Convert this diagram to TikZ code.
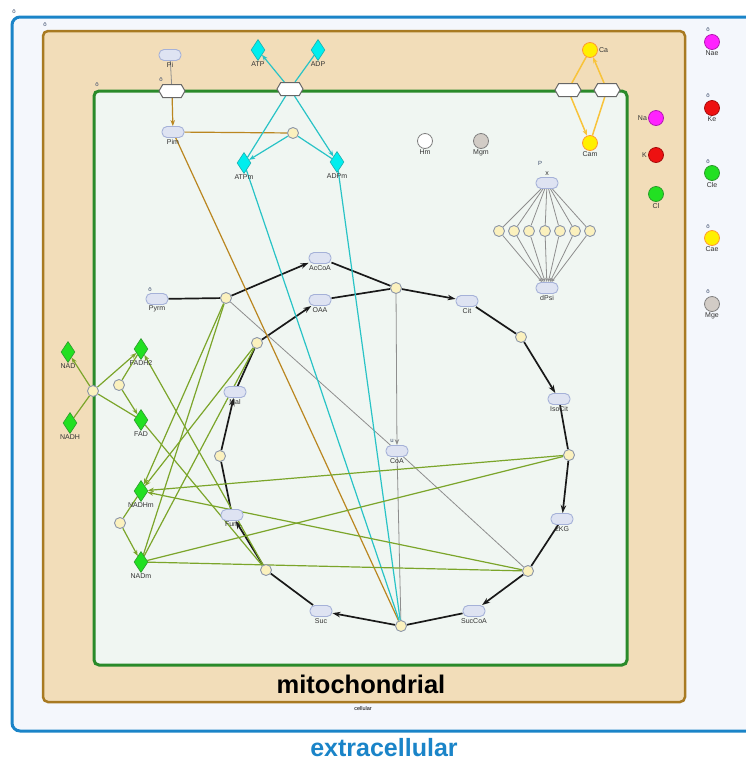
\documentclass[tikz,border=0pt]{standalone}
\usepackage{fontspec}
\setmainfont{Liberation Sans}
\usetikzlibrary{shapes.geometric,shapes.symbols,arrows.meta}
\pgfdeclarelayer{bg}
\pgfdeclarelayer{edges}
\pgfsetlayers{bg,edges,main}
\definecolor{extb}{HTML}{1A84C8}
\definecolor{extf}{HTML}{F4F7FC}
\definecolor{celb}{HTML}{A87A22}
\definecolor{celf}{HTML}{F2DDB9}
\definecolor{mitb}{HTML}{2A8A2A}
\definecolor{mitf}{HTML}{F0F6F2}
\definecolor{scf}{HTML}{DEE3F2}
\definecolor{scd}{HTML}{A5B1D8}
\definecolor{prf}{HTML}{FBF1BE}
\definecolor{prd}{HTML}{8C96A8}
\definecolor{cyanf}{HTML}{00EEEE}
\definecolor{cyand}{HTML}{1AAFB0}
\definecolor{grnf}{HTML}{22E022}
\definecolor{grnd}{HTML}{2C9A2C}
\definecolor{olv}{HTML}{7BA52A}
\definecolor{cyl}{HTML}{28C3C6}
\definecolor{brn}{HTML}{BA8620}
\definecolor{yel}{HTML}{F8C33A}
\definecolor{gryl}{HTML}{8E8E8E}
\definecolor{labc}{HTML}{333333}
\definecolor{glyc}{HTML}{3A4A6A}
\definecolor{magf}{HTML}{FF22FF}
\definecolor{redf}{HTML}{EE1111}
\definecolor{yelf}{HTML}{FFF000}
\definecolor{mgf}{HTML}{D2CCC6}
\begin{document}
\begin{tikzpicture}[x=1pt,y=-1pt,
  lab/.style={font=\fontsize{7}{8}\selectfont, text=labc, inner sep=1pt},
  glyph/.style={font=\fontsize{6}{6}\selectfont, text=glyc, inner sep=0pt},
  sc/.style={draw=scd, fill=scf, line width=0.9pt, rounded corners=5pt, minimum width=22pt, minimum height=11pt, inner sep=0pt},
  proc/.style={circle, draw=prd, fill=prf, line width=0.9pt, minimum size=11pt, inner sep=0pt},
  dia/.style={diamond, inner sep=0pt, minimum width=14pt, minimum height=21pt, line width=0.6pt},
  cdia/.style={dia, fill=cyanf, draw=cyand},
  gdia/.style={dia, fill=grnf, draw=grnd},
  ion/.style={circle, minimum size=15pt, inner sep=0pt, line width=0.8pt},
  hexn/.style={signal, signal to=east and west, signal pointer angle=120, draw=gray!80!black, fill=white, line width=1pt, minimum width=26pt, minimum height=13pt, inner sep=0pt},
  cyc/.style={line width=1.7pt, draw=black!90},
  arr/.style={-{Stealth[length=8pt,width=5.5pt]}},
  sarr/.style={-{Stealth[length=6pt,width=4.5pt]}},
  ol/.style={line width=1.2pt, draw=olv},
  cy/.style={line width=1.2pt, draw=cyl},
  br/.style={line width=1.2pt, draw=brn},
  ye/.style={line width=1.5pt, draw=yel},
  gr/.style={line width=0.8pt, draw=gryl},
  dl/.style={label distance=1pt}
]
\useasboundingbox (0,0) rectangle (746,761);
\begin{pgfonlayer}{bg}
\draw[extb, fill=extf, line width=3pt, rounded corners=8pt] (12,17) rectangle (765,731);
\draw[celb, fill=celf, line width=2.5pt, rounded corners=5pt] (43,31) rectangle (685,702);
\draw[mitb, fill=mitf, line width=3pt, rounded corners=5pt] (94,91) rectangle (627,665);
\end{pgfonlayer}

% compartment labels
\node[font=\fontsize{25}{25}\selectfont\bfseries, text=extb] (extlab) at (384,748) {extracellular};
\node[font=\fontsize{25.5}{25.5}\selectfont\bfseries] (mitlab) at (361,684) {mitochondrial};
\node[font=\fontsize{5.5}{6}\selectfont] (cellab) at (363,709) {cellular};

% glyphs
\node[glyph] (g1) at (14,12) {ō};
\node[glyph] (g2) at (45,25) {ō};
\node[glyph] (g3) at (97,85) {ō};
\node[glyph] (g4) at (161,80) {ō};
\node[glyph] (g5) at (150,290) {ō};
\node[glyph] (g6) at (540,163) {P};
\node[glyph] (g7) at (392,441) {u};
\node[glyph] (g8) at (708,30) {ō};
\node[glyph] (g9) at (708,96) {ō};
\node[glyph] (g10) at (708,162) {ō};
\node[glyph] (g11) at (708,227) {ō};
\node[glyph] (g12) at (708,292) {ō};

% simple chemicals
\node[sc, label={[lab]below:Pi}] (Pi) at (170,55) {};
\node[sc, label={[lab]below:Pim}] (Pim) at (173,132) {};
\node[sc, label={[lab]below:AcCoA}] (AcCoA) at (320,258) {};
\node[sc, label={[lab]below:OAA}] (OAA) at (320,300) {};
\node[sc, label={[lab]below:Pyrm}] (Pyrm) at (157,299) {};
\node[sc, label={[lab]below:Cit}] (Cit) at (467,301) {};
\node[sc, label={[lab]below:IsoCit}] (IsoCit) at (559,399) {};
\node[sc, label={[lab]below:2KG}] (KG) at (562,519) {};
\node[sc, label={[lab]below:SucCoA}] (SucCoA) at (474,611) {};
\node[sc, label={[lab]below:Suc}] (Suc) at (321,611) {};
\node[sc, label={[lab]below:Fum}] (Fum) at (232,515) {};
\node[sc, label={[lab]below:Mal}] (Mal) at (235,392) {};
\node[sc, label={[lab]below:CoA}] (CoA) at (397,451) {};
\node[sc, label={[lab]above:x}] (x) at (547,183) {};
\node[sc, label={[lab]below:dPsi}] (dPsi) at (547,288) {};

% process nodes
\node[proc] (P1) at (226,298) {};
\node[proc] (Pcs) at (396,288) {};
\node[proc] (Paco) at (521,337) {};
\node[proc] (Pidh) at (569,455) {};
\node[proc] (Pkg) at (528,571) {};
\node[proc] (Pscs) at (401,626) {};
\node[proc] (Psdh) at (266,570) {};
\node[proc] (Pfum) at (220,456) {};
\node[proc] (Pmdh) at (257,343) {};
\node[proc] (Patp) at (293,133) {};
\node[proc] (Pnad) at (93,391) {};
\node[proc] (Pfad) at (119,385) {};
\node[proc] (Pnadm) at (120,523) {};
\foreach \i/\xx in {1/499,2/514,3/529,4/545,5/560,6/575,7/590}
  \node[proc] (f\i) at (\xx,231) {};

% diamonds
\node[cdia, dl, label={[lab]below:ATP}] (ATP) at (258,50) {};
\node[cdia, dl, label={[lab]below:ADP}] (ADP) at (318,50) {};
\node[cdia, dl, label={[lab]below:ATPm}] (ATPm) at (244,163) {};
\node[cdia, dl, label={[lab]below:ADPm}] (ADPm) at (337,162) {};
\node[gdia, dl, label={[lab]below:NAD}] (NAD) at (68,352) {};
\node[gdia, dl, label={[lab]below:NADH}] (NADH) at (70,423) {};
\node[gdia, dl, label={[lab]below:FADH2}] (FADH2) at (141,349) {};
\node[gdia, dl, label={[lab]below:FAD}] (FAD) at (141,420) {};
\node[gdia, dl, label={[lab]below:NADHm}] (NADHm) at (141,491) {};
\node[gdia, dl, label={[lab]below:NADm}] (NADm) at (141,562) {};

% hexagons
\node[hexn] (hPi) at (172,91) {};
\node[hexn] (hATP) at (290,89) {};
\node[hexn] (hCa1) at (568,90) {};
\node[hexn] (hCa2) at (607,90) {};

% ions
\node[ion, fill=yelf, draw=orange!80, label={[lab]right:Ca}] (Ca) at (590,50) {};
\node[ion, fill=yelf, draw=orange!80, label={[lab]below:Cam}] (Cam) at (590,143) {};
\node[ion, fill=magf, draw=magf!70!black, label={[lab]left:Na}] (Na) at (656,118) {};
\node[ion, fill=redf, draw=redf!70!black, label={[lab]left:K}] (K) at (656,155) {};
\node[ion, fill=grnf, draw=grnd, label={[lab]below:Cl}] (Cl) at (656,194) {};
\node[ion, fill=magf, draw=magf!70!black, label={[lab]below:Nae}] (Nae) at (712,42) {};
\node[ion, fill=redf, draw=redf!70!black, label={[lab]below:Ke}] (Ke) at (712,108) {};
\node[ion, fill=grnf, draw=grnd, label={[lab]below:Cle}] (Cle) at (712,173) {};
\node[ion, fill=yelf, draw=orange!80, label={[lab]below:Cae}] (Cae) at (712,238) {};
\node[ion, fill=mgf, draw=gray, label={[lab]below:Mge}] (Mge) at (712,304) {};
\node[ion, fill=white, draw=gray, label={[lab]below:Hm}] (Hm) at (425,141) {};
\node[ion, fill=mgf, draw=gray, label={[lab]below:Mgm}] (Mgm) at (481,141) {};

\begin{pgfonlayer}{edges}
% TCA cycle
\draw[cyc] (Pyrm) -- (P1);
\draw[cyc,arr] (P1) -- (AcCoA);
\draw[cyc] (AcCoA) -- (Pcs);
\draw[cyc] (OAA) -- (Pcs);
\draw[cyc,arr] (Pcs) -- (Cit);
\draw[cyc] (Cit) -- (Paco);
\draw[cyc,arr] (Paco) -- (IsoCit);
\draw[cyc] (IsoCit) -- (Pidh);
\draw[cyc,arr] (Pidh) -- (KG);
\draw[cyc] (KG) -- (Pkg);
\draw[cyc,arr] (Pkg) -- (SucCoA);
\draw[cyc] (SucCoA) -- (Pscs);
\draw[cyc,arr] (Pscs) -- (Suc);
\draw[cyc] (Suc) -- (Psdh);
\draw[cyc,arr] (Psdh) -- (Fum);
\draw[cyc] (Fum) -- (Pfum);
\draw[cyc,arr] (Pfum) -- (Mal);
\draw[cyc] (Mal) -- (Pmdh);
\draw[cyc,arr] (Pmdh) -- (OAA);
% CoA and grey
\draw[gr] (P1) -- (CoA);
\draw[gr] (CoA) -- (Pkg);
\draw[gr,sarr] (Pcs) -- (CoA);
\draw[gr] (CoA) -- (Pscs);
\draw[gr] (Pi) -- (hPi);
\foreach \i in {1,...,7} {
  \draw[gr] (x) -- (f\i);
  \draw[gr,-{Stealth[length=4pt,width=3pt]}] (f\i) -- (dPsi);
}
% phosphate
\draw[br,sarr] (hPi) -- (Pim);
\draw[br] (Pim) -- (Patp);
\draw[br] (Pim) -- (Pscs);
% ATP / ADP
\draw[cy] (ADP) -- (hATP);
\draw[cy,sarr] (hATP) -- (ATP);
\draw[cy] (hATP) -- (ATPm);
\draw[cy,sarr] (hATP) -- (ADPm);
\draw[cy,sarr] (Patp) -- (ATPm);
\draw[cy] (Patp) -- (ADPm);
\draw[cy] (ATPm) -- (Pscs);
\draw[cy] (ADPm) -- (Pscs);
% calcium
\draw[ye] (Ca) -- (hCa1);
\draw[ye,sarr] (hCa1) -- (Cam);
\draw[ye] (Cam) -- (hCa2);
\draw[ye,sarr] (hCa2) -- (Ca);
% NAD / FAD
\draw[ol] (NADH) -- (Pnad);
\draw[ol,sarr] (Pnad) -- (NAD);
\draw[ol,sarr] (Pnad) -- (FADH2);
\draw[ol] (Pnad) -- (FAD);
\draw[ol] (FADH2) -- (Pfad);
\draw[ol,sarr] (Pfad) -- (FAD);
\draw[ol] (NADHm) -- (Pnadm);
\draw[ol,sarr] (Pnadm) -- (NADm);
\draw[ol] (NADm) -- (P1);
\draw[ol,sarr] (P1) -- (NADHm);
\draw[ol] (NADm) -- (Pmdh);
\draw[ol,sarr] (Pmdh) -- (NADHm);
\draw[ol] (NADm) -- (Pidh);
\draw[ol,sarr] (Pidh) -- (NADHm);
\draw[ol] (NADm) -- (Pkg);
\draw[ol,sarr] (Pkg) -- (NADHm);
\draw[ol] (FAD) -- (Psdh);
\draw[ol,sarr] (Psdh) -- (FADH2);
\end{pgfonlayer}
\end{tikzpicture}
\end{document}
